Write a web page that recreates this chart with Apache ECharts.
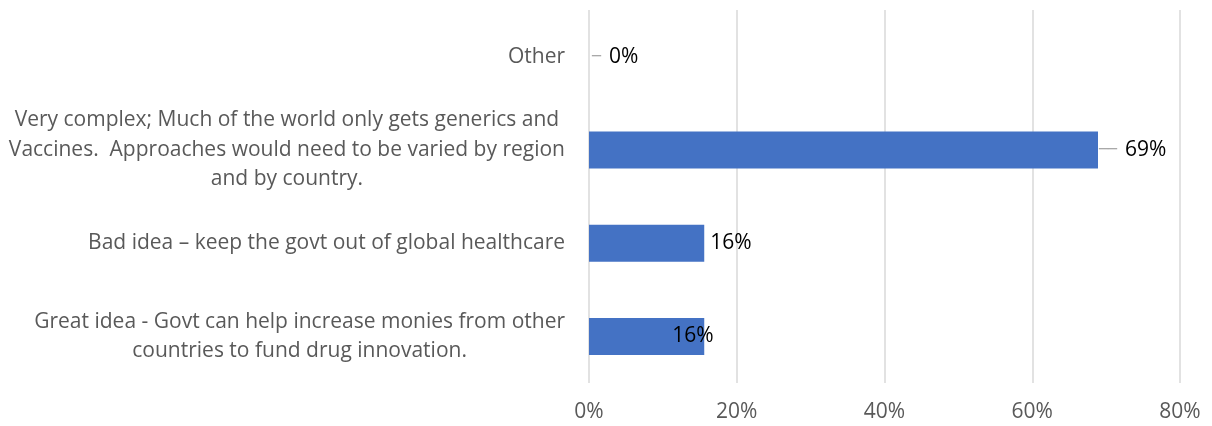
<!DOCTYPE html>
<html>
<head>
<meta charset="utf-8">
<script src="https://cdn.jsdelivr.net/npm/echarts@6/dist/echarts.min.js"></script>
<style>
html,body{margin:0;padding:0;background:#fff;}
#c{width:1212px;height:426px;}
</style>
</head>
<body>
<div id="c"></div>
<script>
const categories = [
  'Great idea - Govt can help increase monies from other\ncountries to fund drug innovation.',
  'Bad idea – keep the govt out of global healthcare',
  'Very complex; Much of the world only gets generics and\nVaccines.  Approaches would need to be varied by region\nand by country.',
  'Other'
];
const values = [15.6, 15.6, 68.9, 0];
const xTicks = { min: 0, max: 80, interval: 20 };

const FONT = 'Open Sans';
const FS = 21;
const labelCfg = [
  { offset: [-37, 0], distance: 5, lead: '' },
  { offset: [0, 0], distance: 6, lead: '' },
  { offset: [0, 0], distance: 1, lead: '──' },
  { offset: [0, 0], distance: 3, lead: '─' }
];

const data = values.map((v, i) => ({
  value: v,
  label: {
    position: 'right',
    offset: labelCfg[i].offset,
    distance: labelCfg[i].distance,
    formatter: p => (labelCfg[i].lead ? '{l|' + labelCfg[i].lead + '}{g|}' : '') + '{v|' + Math.round(p.value) + '%}'
  }
}));

const chart = echarts.init(document.getElementById('c'));
chart.setOption({
  animation: false,
  textStyle: { fontFamily: FONT },
  grid: { left: 589, right: 32, top: 10, bottom: 43, containLabel: false },
  xAxis: {
    type: 'value',
    min: xTicks.min, max: xTicks.max, interval: xTicks.interval,
    axisLine: { show: false },
    axisTick: { show: false },
    splitLine: { show: true, lineStyle: { color: '#d9d9d9', width: 1.5 } },
    axisLabel: { formatter: '{value}%', color: '#595959', fontSize: FS, margin: 19, fontFamily: FONT }
  },
  yAxis: {
    type: 'category',
    data: categories,
    axisLine: { show: false },
    axisTick: { show: false },
    axisLabel: {
      margin: 24,
      color: '#595959',
      fontFamily: FONT,
      formatter: v => v.split('\n').map(l => '{c|' + l + '}').join('\n'),
      rich: { c: { align: 'center', fontSize: FS, color: '#595959', lineHeight: 29.5, fontFamily: FONT } }
    }
  },
  series: [{
    type: 'bar',
    data: data,
    barWidth: 37,
    itemStyle: { color: '#4472C4' },
    label: {
      show: true,
      rich: {
        v: { color: '#000', fontSize: FS, fontFamily: FONT },
        l: { color: '#a6a6a6', fontSize: 15, fontFamily: 'DejaVu Sans' },
        g: { width: 8 }
      }
    }
  }]
});
</script>
</body>
</html>
